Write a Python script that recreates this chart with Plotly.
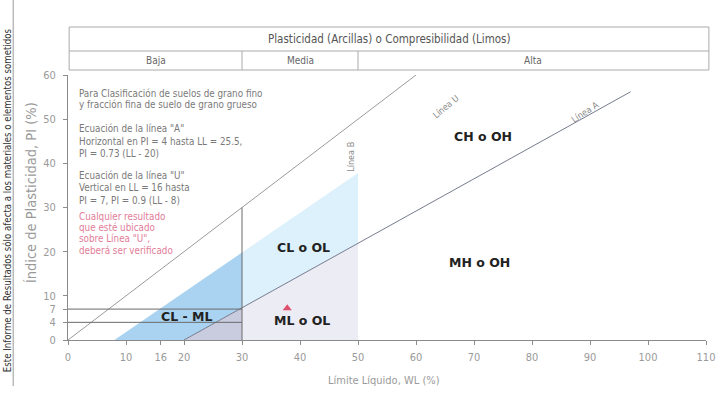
import plotly.graph_objects as go

# Axis ticks
x_ticks = [0, 10, 16, 20, 30, 40, 50, 60, 70, 80, 90, 100, 110]
y_ticks = [0, 4, 7, 10, 20, 30, 40, 50, 60]

# Reference lines of the plasticity chart (LL, PI)
line_u_ll = [8, 30, 50]
line_u_pi = [0, 19.8, 37.8]
line_a_ll = [20, 30, 50, 97]
line_a_pi = [0, 7.3, 21.9, 56.2]
diag_ll = [0, 60]
diag_pi = [0, 60]
cl_ml_pi = [4, 7]          # horizontal limits of the CL-ML band
cl_ml_ll_end = 30
line_b_ll = 30             # vertical limit drawn up to the diagonal
line_b_top = 30

# Sample result
sample_ll = [37.8]
sample_pi = [7.2]

# Header bands
header_title = "Plasticidad (Arcillas) o Compresibilidad (Limos)"
header_bands = ["Baja", "Media", "Alta"]
header_bounds = [0.2, 30, 50, 110.5]

side_note = "Este Informe de Resultados sólo afecta a los materiales o elementos sometidos"

NARROW = "Liberation Sans Narrow, Arial Narrow, DejaVu Sans Condensed, sans-serif"
BOLD = "DejaVu Sans, Arial Black, sans-serif"

fig = go.Figure()

def poly(xs, ys, color):
    fig.add_trace(go.Scatter(x=xs + [xs[0]], y=ys + [ys[0]], mode="lines", fill="toself",
                             fillcolor=color, line=dict(width=0), hoverinfo="skip",
                             showlegend=False))

# Shaded zones
poly([line_u_ll[0], line_a_ll[0], line_a_ll[1], line_u_ll[1]],
     [0, 0, line_a_pi[1], line_u_pi[1]], "#a9d3f1")
poly([line_a_ll[0], line_a_ll[1], line_a_ll[1]],
     [0, 0, line_a_pi[1]], "#c9ccde")
poly([line_a_ll[1], line_a_ll[2], line_u_ll[2], line_u_ll[1]],
     [line_a_pi[1], line_a_pi[2], line_u_pi[2], line_u_pi[1]], "#dcf1fb")
poly([line_a_ll[1], line_a_ll[2], line_a_ll[2], line_a_ll[1]],
     [0, 0, line_a_pi[2], line_a_pi[1]], "#ececf5")

# Diagonal line
fig.add_trace(go.Scatter(x=diag_ll, y=diag_pi, mode="lines",
                         line=dict(color="#8f8f8f", width=0.9), hoverinfo="skip", showlegend=False))
# Line A
fig.add_trace(go.Scatter(x=line_a_ll, y=line_a_pi, mode="lines",
                         line=dict(color="#767c8e", width=1), hoverinfo="skip", showlegend=False))
# CL-ML limits
for pi in cl_ml_pi:
    fig.add_trace(go.Scatter(x=[0, cl_ml_ll_end], y=[pi, pi], mode="lines",
                             line=dict(color="#6a6a6a", width=1), hoverinfo="skip", showlegend=False))
# Vertical limit at LL = 30
fig.add_trace(go.Scatter(x=[line_b_ll, line_b_ll], y=[0, line_b_top], mode="lines",
                         line=dict(color="#6a6a6a", width=1), hoverinfo="skip", showlegend=False))

# Sample point
fig.add_trace(go.Scatter(x=sample_ll, y=sample_pi, mode="markers",
                         marker=dict(symbol="triangle-up", size=8, color="#e0506e"),
                         showlegend=False))

ann = []

# Zone labels
zones = [("CL o OL", 40.6, 21), ("ML o OL", 40.3, 4.5), ("CL - ML", 20.4, 5.3),
         ("CH o OH", 71.5, 46), ("MH o OH", 71, 17.5)]
for t, x, y in zones:
    ann.append(dict(x=x, y=y, text="<b>%s</b>" % t, showarrow=False,
                    font=dict(family=BOLD, size=12.5, color="#222222")))

# Line labels
ann.append(dict(x=65.1, y=52.7, text="Línea U", showarrow=False, textangle=-40,
                font=dict(family=NARROW, size=9, color="#8a8a8a")))
ann.append(dict(x=89.2, y=51.6, text="Línea A", showarrow=False, textangle=-33,
                font=dict(family=NARROW, size=9, color="#8a8a8a")))
ann.append(dict(x=48.9, y=41.4, text="Línea B", showarrow=False, textangle=-90,
                font=dict(family=NARROW, size=9, color="#8a8a8a")))

# Notes block
notes = [
    ("Para Clasificación de suelos de grano fino", 55.7, "#7a7a7a"),
    ("y fracción fina de suelo de grano grueso", 53.4, "#7a7a7a"),
    ("Ecuación de la línea \"A\"", 47.8, "#7a7a7a"),
    ("Horizontal en PI = 4 hasta LL = 25.5,", 45.0, "#7a7a7a"),
    ("PI = 0.73 (LL - 20)", 42.2, "#7a7a7a"),
    ("Ecuación de la línea \"U\"", 37.2, "#7a7a7a"),
    ("Vertical en LL = 16 hasta", 34.6, "#7a7a7a"),
    ("PI = 7, PI = 0.9 (LL - 8)", 31.6, "#7a7a7a"),
    ("Cualquier resultado", 28.0, "#e27d98"),
    ("que esté ubicado", 25.4, "#e27d98"),
    ("sobre Línea \"U\",", 22.9, "#e27d98"),
    ("deberá ser verificado", 20.3, "#e27d98"),
]
for t, y, c in notes:
    ann.append(dict(x=1.6, y=y, text=t, showarrow=False, xanchor="left", yanchor="middle",
                    font=dict(family=NARROW, size=9.8, color=c)))

# Header table
X0 = 68
PW = 640
PH = 265
def px_y(py):
    return (340 - py) / PH
hdr_top, hdr_mid, hdr_bot = px_y(27), px_y(51), px_y(70)
bx = [b / 110 for b in header_bounds]
shapes = []
hline = dict(color="#aaaaaa", width=1)
shapes.append(dict(type="rect", xref="paper", yref="paper", x0=bx[0], x1=bx[-1],
                   y0=hdr_bot, y1=hdr_top, line=hline))
shapes.append(dict(type="line", xref="paper", yref="paper", x0=bx[0], x1=bx[-1],
                   y0=hdr_mid, y1=hdr_mid, line=hline))
for b in bx[1:-1]:
    shapes.append(dict(type="line", xref="paper", yref="paper", x0=b, x1=b,
                       y0=hdr_bot, y1=hdr_mid, line=hline))
ann.append(dict(xref="paper", yref="paper", x=(bx[0] + bx[-1]) / 2, y=(hdr_top + hdr_mid) / 2,
                xanchor="center", yanchor="middle",
                text=header_title, showarrow=False,
                font=dict(family=NARROW, size=11.5, color="#555555")))
for i, t in enumerate(header_bands):
    ann.append(dict(xref="paper", yref="paper", x=(bx[i] + bx[i + 1]) / 2,
                    y=(hdr_mid + hdr_bot) / 2, xanchor="center", yanchor="middle",
                    text=t, showarrow=False,
                    font=dict(family=NARROW, size=10, color="#666666")))

# Axis titles
ann.append(dict(xref="paper", yref="paper", x=(385 - X0) / PW, y=px_y(380),
                xanchor="center", yanchor="middle",
                text="Límite Líquido, WL (%)", showarrow=False,
                font=dict(family=NARROW, size=11, color="#9a9a9a")))
ann.append(dict(xref="paper", yref="paper", x=(31 - X0) / PW, y=px_y(193),
                xanchor="center", yanchor="middle",
                text="Índice de Plasticidad, PI (%)", showarrow=False, textangle=-90,
                font=dict(family=NARROW, size=14.5, color="#9a9a9a")))

# Side note along the left edge
ann.append(dict(xref="paper", yref="paper", x=(7 - X0) / PW, y=px_y(200),
                xanchor="center", yanchor="middle",
                text=side_note, showarrow=False, textangle=-90,
                font=dict(family="DejaVu Sans Condensed, sans-serif", size=9.6, color="#333333")))
shapes.append(dict(type="line", xref="paper", yref="paper", x0=(13 - X0) / PW, x1=(13 - X0) / PW,
                   y0=px_y(386), y1=px_y(0), line=dict(color="#999999", width=1)))

fig.update_layout(
    width=727, height=394,
    margin=dict(l=68, r=19, t=75, b=54),
    paper_bgcolor="white", plot_bgcolor="white",
    annotations=ann, shapes=shapes,
    xaxis=dict(range=[0, 110], tickvals=x_ticks, showgrid=False, zeroline=False,
               showline=True, linecolor="#8a8a8a", linewidth=1, ticks="outside", ticklen=4,
               tickcolor="#8a8a8a", ticklabelstandoff=3,
               tickfont=dict(family=NARROW, size=11, color="#9a9a9a")),
    yaxis=dict(range=[0, 60], tickvals=y_ticks, showgrid=False, zeroline=False,
               showline=True, linecolor="#8a8a8a", linewidth=1, ticks="outside", ticklen=4,
               tickcolor="#8a8a8a", ticklabelstandoff=5,
               tickfont=dict(family=NARROW, size=11, color="#9a9a9a")),
)

fig.write_html("out.html")
